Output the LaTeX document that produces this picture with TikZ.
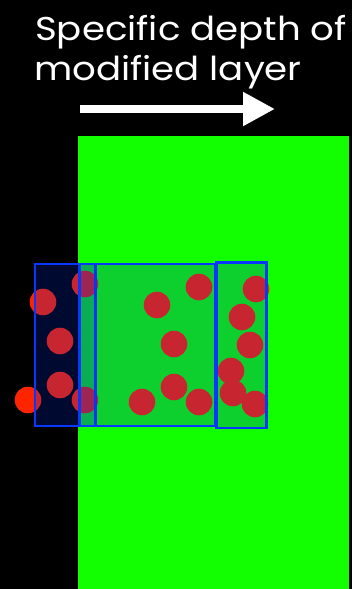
\documentclass[tikz,border=0pt]{standalone}
\usepackage{fontspec}
\setmainfont{Poppins}
\usetikzlibrary{arrows.meta}
\definecolor{bggreen}{RGB}{17,255,0}
\definecolor{dotred}{RGB}{255,36,0}
\definecolor{boxblue}{RGB}{8,56,255}
\definecolor{boxfill}{RGB}{0,45,218}
\tikzset{
  dot/.style={fill=dotred},
  layerbox/.style={draw=boxblue, line width=2.8pt, fill=boxfill, fill opacity=0.22, draw opacity=1},
  title/.style={anchor=base west, inner sep=0pt, text=white, font=\fontsize{33}{33}\selectfont}
}
\begin{document}
\begin{tikzpicture}[x=1pt,y=-1pt]
\fill[black] (0,0) rectangle (352,589);
\useasboundingbox (0,0) rectangle (352,589);
% substrate
\fill[bggreen] (78,136) rectangle (349,589);
% title
\node[title] (t1) at (35,40) {\scalebox{1.125}[1]{Specific depth of}};
\node[title] (t2) at (34,80) {\scalebox{1.125}[1]{modified layer}};
% arrow
\coordinate (a1) at (80,109);
\coordinate (a2) at (275,109);
\draw[white, line width=8pt, -{Triangle[length=32pt,width=32pt]}] (a1) -- (a2);
% particles
\foreach \x/\y in {28/400, 43/302, 85/284, 60/341, 60/385, 85/400,
  157/305, 199/287, 174/344, 174/387, 142/402, 199/402,
  256/289, 242/317, 250/345, 231/371, 233/393, 255/404}
  \fill[dot] (\x,\y) circle (13.3);
% boxes
\draw[layerbox] (35,264) rectangle (95.8,426);
\draw[layerbox] (79.6,264) rectangle (215.4,426);
\draw[layerbox] (216.6,262.5) rectangle (266.6,428);
\end{tikzpicture}
\end{document}
